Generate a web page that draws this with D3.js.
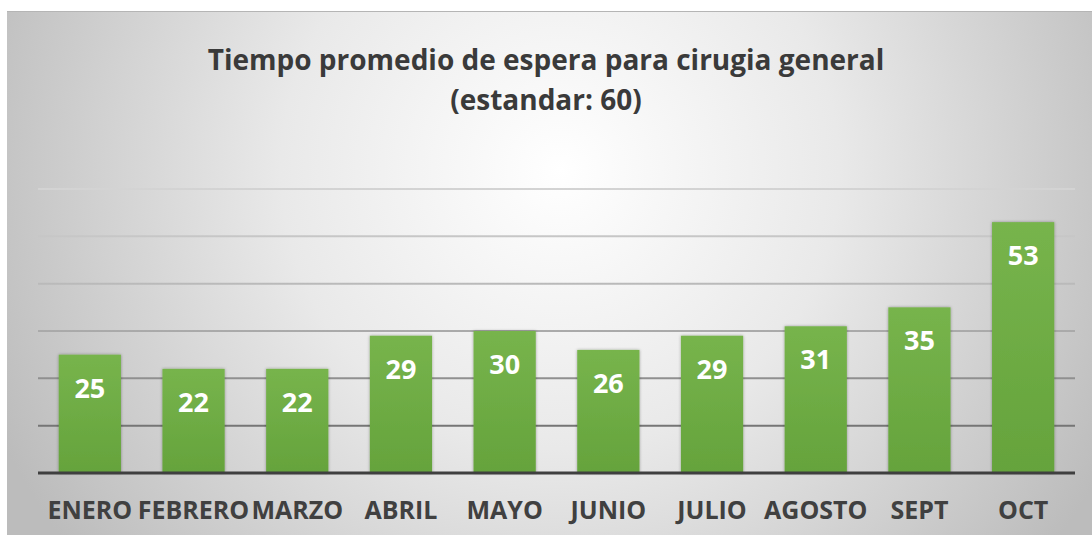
<!DOCTYPE html>
<html>
<head>
<meta charset="utf-8">
<script src="https://cdn.jsdelivr.net/npm/d3@7"></script>
<style>
    body { margin: 0; background: #fff; }
    #chart { width: 1092px; height: 537px; }
    text { font-family: "Open Sans", "DejaVu Sans", sans-serif; font-weight: bold; }
</style>
</head>
<body>
<div id="chart"></div>
<script>
const months = ['ENERO', 'FEBRERO', 'MARZO', 'ABRIL', 'MAYO', 'JUNIO', 'JULIO', 'AGOSTO', 'SEPT', 'OCT'];
const waitDays = [25, 22, 22, 29, 30, 26, 29, 31, 35, 53];
const gridTicks = [0, 10, 20, 30, 40, 50, 60];
const titleLines = ['Tiempo promedio de espera para cirugia general', '(estandar: 60)'];

const width = 1092;
const height = 537;

const svg = d3.select('#chart')
    .append('svg')
    .attr('width', width)
    .attr('height', height);

const defs = svg.append('defs');

const bg = defs.append('radialGradient')
    .attr('id', 'bg')
    .attr('gradientUnits', 'userSpaceOnUse')
    .attr('cx', 560).attr('cy', 170).attr('r', 620);
bg.append('stop').attr('offset', '0%').attr('stop-color', '#ffffff');
bg.append('stop').attr('offset', '45%').attr('stop-color', '#e9e9e9');
bg.append('stop').attr('offset', '100%').attr('stop-color', '#bcbcbc');

const barFill = defs.append('linearGradient')
    .attr('id', 'barFill')
    .attr('x1', 0).attr('y1', 0).attr('x2', 0).attr('y2', 1);
barFill.append('stop').attr('offset', '0%').attr('stop-color', '#77b44c');
barFill.append('stop').attr('offset', '100%').attr('stop-color', '#65a33c');

const gridStroke = defs.append('linearGradient')
    .attr('id', 'gridStroke')
    .attr('gradientUnits', 'userSpaceOnUse')
    .attr('x1', 0).attr('y1', 185).attr('x2', 0).attr('y2', 430);
gridStroke.append('stop').attr('offset', '0%').attr('stop-color', '#d4d4d4');
gridStroke.append('stop').attr('offset', '55%').attr('stop-color', '#b0b0b0');
gridStroke.append('stop').attr('offset', '100%').attr('stop-color', '#737373');

const shadow = defs.append('filter')
    .attr('id', 'shadow')
    .attr('x', '-20%').attr('y', '-10%').attr('width', '140%').attr('height', '120%');
shadow.append('feDropShadow')
    .attr('dx', 0).attr('dy', 0)
    .attr('stdDeviation', 1.6)
    .attr('flood-color', '#000')
    .attr('flood-opacity', 0.35);

// chart area background
svg.append('rect')
    .attr('x', 7).attr('y', 11)
    .attr('width', width - 7).attr('height', 524)
    .attr('fill', 'url(#bg)');
svg.append('line')
    .attr('x1', 7).attr('x2', width)
    .attr('y1', 11.5).attr('y2', 11.5)
    .attr('stroke', '#b5b5b5')
    .attr('stroke-width', 1);

const x = d3.scaleBand()
    .domain(months)
    .range([38, 1075])
    .paddingInner(0.4)
    .paddingOuter(0.2);

const y = d3.scaleLinear()
    .domain([0, 60])
    .range([473, 189]);

// gridlines
svg.append('g')
    .selectAll('line')
    .data(gridTicks.filter(d => d > 0))
    .enter()
    .append('line')
    .attr('x1', 38)
    .attr('x2', 1075)
    .attr('y1', d => y(d))
    .attr('y2', d => y(d))
    .attr('stroke', 'url(#gridStroke)')
    .attr('stroke-width', 2);

// bars
svg.append('g')
    .selectAll('rect')
    .data(waitDays)
    .enter()
    .append('rect')
    .attr('x', (d, i) => x(months[i]))
    .attr('y', d => y(d))
    .attr('width', x.bandwidth())
    .attr('height', d => y(0) - y(d))
    .attr('fill', 'url(#barFill)')
    .attr('filter', 'url(#shadow)');

// baseline
svg.append('line')
    .attr('x1', 38).attr('x2', 1075)
    .attr('y1', y(0)).attr('y2', y(0))
    .attr('stroke', '#3f3f3f')
    .attr('stroke-width', 3);

// value labels
svg.append('g')
    .selectAll('text')
    .data(waitDays)
    .enter()
    .append('text')
    .attr('x', (d, i) => x(months[i]) + x.bandwidth() / 2)
    .attr('y', d => y(d) + 43)
    .attr('text-anchor', 'middle')
    .attr('fill', '#ffffff')
    .style('font-size', '27px')
    .text(d => d);

// category labels
svg.append('g')
    .selectAll('text')
    .data(months)
    .enter()
    .append('text')
    .attr('x', d => x(d) + x.bandwidth() / 2)
    .attr('y', 519)
    .attr('text-anchor', 'middle')
    .attr('fill', '#404040')
    .style('font-size', '25px')
    .text(d => d);

// title
svg.append('g')
    .selectAll('text')
    .data(titleLines)
    .enter()
    .append('text')
    .attr('x', 546)
    .attr('y', (d, i) => 70 + i * 40)
    .attr('text-anchor', 'middle')
    .attr('fill', '#3a3a3a')
    .style('font-size', '28px')
    .text(d => d);
</script>
</body>
</html>
